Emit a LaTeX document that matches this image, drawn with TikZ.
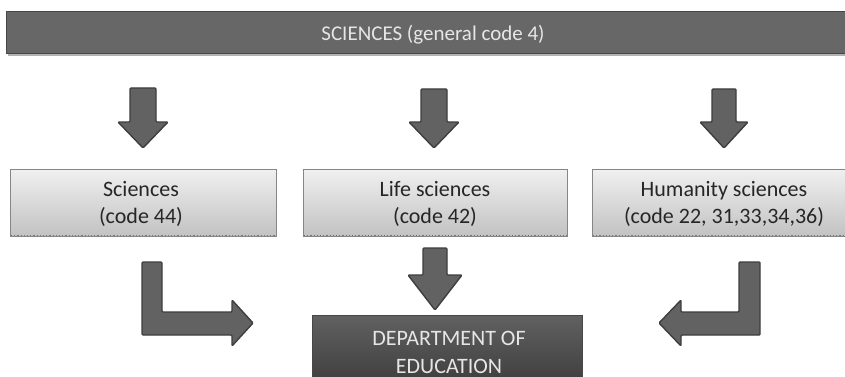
\documentclass[tikz,border=0pt]{standalone}
\usepackage{fontspec}
\setmainfont{Carlito}
\usetikzlibrary{calc}

\definecolor{barfill}{HTML}{676767}
\definecolor{barline}{HTML}{474747}
\definecolor{arrowfill}{HTML}{626262}
\definecolor{arrowline}{HTML}{3E3E3E}
\definecolor{boxline}{HTML}{868686}
\definecolor{boxtext}{HTML}{262626}
\definecolor{lighttext}{HTML}{E6E6E6}

\tikzset{
  headbar/.style={draw=barline, line width=1.2pt, fill=barfill,
    inner sep=0pt, minimum height=42pt},
  catbox/.style={draw=boxline, line width=0.8pt,
    top color=white!94!black, bottom color=white!76!black,
    minimum height=67pt, inner sep=0pt},
  cattext/.style={text=boxtext, align=center,
    font=\fontsize{22}{27}\selectfont, inner sep=0pt},
  deptbox/.style={top color=black!62, bottom color=black!76,
    draw=black!72, line width=0.6pt, minimum width=270pt,
    minimum height=70pt, inner sep=0pt},
  depttext/.style={text=lighttext, align=center,
    font=\fontsize{22}{28}\selectfont, inner sep=0pt},
  blockarrow/.style={draw=arrowline, line width=1.4pt, fill=arrowfill,
    rounded corners=1pt, line join=round}
}

% down-pointing block arrow: centre x, top y, head y, tip y, half shaft, half head
\newcommand\blockdown[6]{%
  \draw[blockarrow] (#1-#5,#2) -- (#1+#5,#2) -- (#1+#5,#3) -- (#1+#6,#3)
    -- (#1,#4) -- (#1-#6,#3) -- (#1-#5,#3) -- cycle;}

\begin{document}
\begin{tikzpicture}[x=1pt,y=-1pt]
\useasboundingbox (0,0) rectangle (845,377);
\clip (0,0) rectangle (845,377);

% general heading bar
\fill[black!30] (8,14) rectangle (852,56);
\node[headbar, minimum width=846pt, anchor=north west] (top) at (6,11) {};
\node[text=lighttext, font=\fontsize{21}{24}\selectfont] (toplabel)
  at (433,35) {SCIENCES (general code 4)};

% the three groups of sciences
\node[catbox, minimum width=266pt, anchor=north west] (sci) at (10,169) {};
\node[catbox, minimum width=264pt, anchor=north west] (life) at (303,169) {};
\node[catbox, minimum width=270pt, anchor=north west] (hum) at (592,169) {};
\node[cattext] (scitext) at (141,204) {Sciences\\(code 44)};
\node[cattext] (lifetext) at (435,204) {Life sciences\\(code 42)};
\node[cattext] (humtext) at (724,204) {Humanity sciences\\(code 22, 31,33,34,36)};

% dotted lower rims of the boxes
\foreach \b in {sci,life,hum}{
  \draw[black!55, dotted, line width=1.2pt]
    ($(\b.south west)+(1,-1)$) -- ($(\b.south east)+(-1,-1)$);}

% the department
\node[deptbox, anchor=north] (dept) at (447,315) {};
\node[depttext] (depttext) at (449,352) {DEPARTMENT OF\\EDUCATION};

% arrows from the heading to the groups
\blockdown{143}{88}{122}{148}{13}{25}
\blockdown{434}{89}{122}{148}{13}{25}
\blockdown{724}{89}{122}{148}{12}{24}

% arrows from the groups to the department
\blockdown{435}{248}{275}{310}{12}{27}
\draw[blockarrow] (142,262) -- (162,262) -- (162,312) -- (232,312)
  -- (232,300) -- (253,323) -- (232,346) -- (232,335) -- (142,335) -- cycle;
\draw[blockarrow] (760,262) -- (739,262) -- (739,312) -- (681,312)
  -- (681,300) -- (659,323) -- (681,346) -- (681,335) -- (760,335) -- cycle;
\end{tikzpicture}
\end{document}
